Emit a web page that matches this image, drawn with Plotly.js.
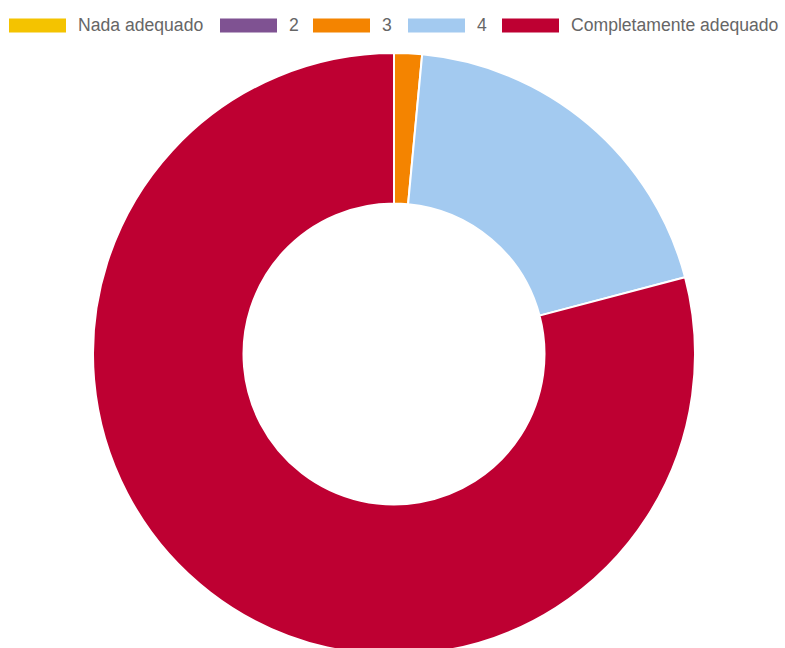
<!DOCTYPE html>
<html><head><meta charset="utf-8">
<script src="https://cdn.plot.ly/plotly-3.0.1.min.js"></script>
<style>html,body{margin:0;padding:0;background:#fff;overflow:hidden}#chart{width:785px;height:660px}</style>
</head><body><div id="chart"></div>
<script>
const categories = ["Nada adequado", "2", "3", "4", "Completamente adequado"];
const counts = [0, 0, 1, 13, 53];
const colors = ["#F4C300", "#7F5292", "#F48400", "#A3CAF0", "#BE0032"];

const W = 785, H = 660;
// legend layout (pixel positions)
const legendBoxX = [9, 220, 313, 408, 502];
const legendY = 25.5;
const shapes = [], annotations = [];
categories.forEach((c, i) => {
  const x0 = legendBoxX[i];
  shapes.push({type: 'rect', xref: 'paper', yref: 'paper',
    x0: x0 / W, x1: (x0 + 57) / W, y0: 1 - (legendY + 7) / H, y1: 1 - (legendY - 7) / H,
    fillcolor: colors[i], line: {width: 0}});
  annotations.push({xref: 'paper', yref: 'paper', x: (x0 + 67) / W, y: 1 - legendY / H,
    xanchor: 'left', yanchor: 'middle', text: c, showarrow: false,
    font: {family: 'Arial, "Liberation Sans", sans-serif', size: 17.6, color: '#666666'}});
});

const trace = {
  type: 'pie', labels: categories, values: counts, sort: false,
  direction: 'clockwise', rotation: 0, hole: 0.5,
  marker: {colors: colors, line: {color: '#ffffff', width: 2}},
  textinfo: 'none', hoverinfo: 'label+value+percent',
  domain: {x: [93 / W, 695 / W], y: [5 / H, 607 / H]}
};
Plotly.newPlot('chart', [trace], {
  width: W, height: H, margin: {l: 0, r: 0, t: 0, b: 0},
  showlegend: false, paper_bgcolor: '#fff', shapes: shapes, annotations: annotations
}, {displayModeBar: false, staticPlot: true});
</script></body></html>
